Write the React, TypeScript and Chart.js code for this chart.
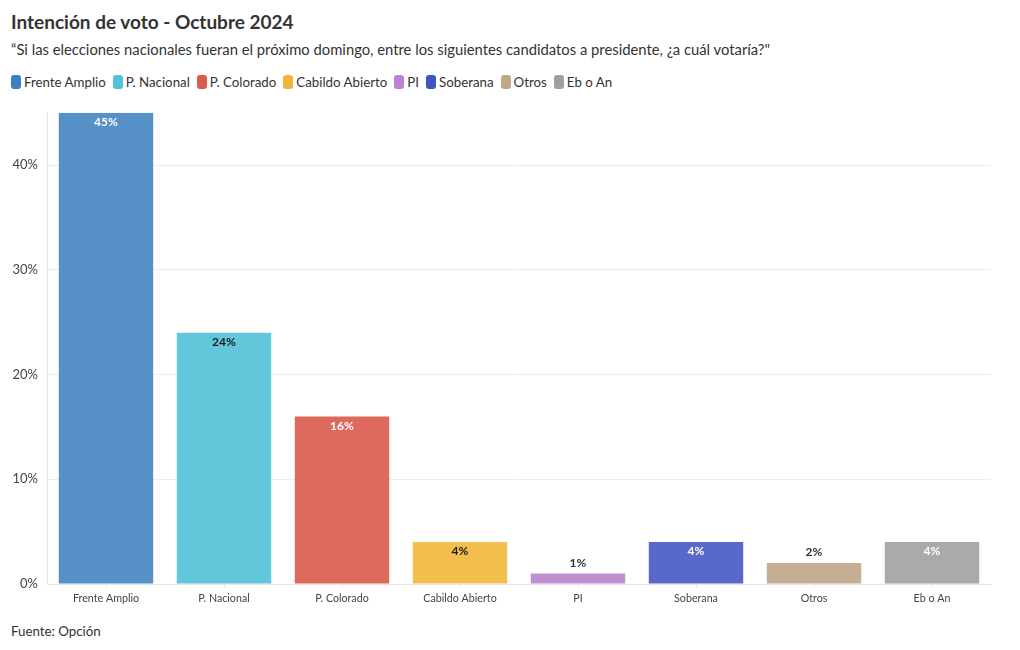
import React, { useEffect, useRef } from "react";
import { Chart, registerables } from "chart.js";

Chart.register(...registerables);

const categories = ["Frente Amplio", "P. Nacional", "P. Colorado", "Cabildo Abierto", "PI", "Soberana", "Otros", "Eb o An"];
const values = [45, 24, 16, 4, 1, 4, 2, 4];
const yTicks = [0, 10, 20, 30, 40];
const legendColors = ["#3D80C2", "#4EC3DA", "#DB5B4C", "#F2B634", "#BE82D2", "#3F55C4", "#BFA88A", "#A0A0A0"];
const barColors = ["#5590C6", "#63C7DC", "#DE6A5E", "#F3BF4C", "#C190D2", "#5869CB", "#C5AE93", "#AAAAAA"];
const labelColors = ["#ffffff", "#1a1a1a", "#ffffff", "#1a1a1a", "#333333", "#ffffff", "#333333", "#ffffff"];

const FONT = "'Source Sans Pro', Lato, 'Noto Sans', sans-serif";

const valueLabels = {
  id: "valueLabels",
  afterDatasetsDraw(chart: any) {
    const ctx = chart.ctx;
    const meta = chart.getDatasetMeta(0);
    ctx.save();
    ctx.font = `bold 12px ${FONT}`;
    ctx.textAlign = "center";
    ctx.textBaseline = "middle";
    meta.data.forEach((bar: any, i: number) => {
      const v = values[i];
      const inside = v >= 4;
      const y = inside ? bar.y + 9.5 : bar.y - 10.5;
      ctx.fillStyle = labelColors[i];
      ctx.fillText(v + "%", bar.x, y);
    });
    ctx.restore();
  },
};

export default function App() {
  const ref = useRef<HTMLCanvasElement>(null);
  useEffect(() => {
    document.body.style.margin = "0";
    const chart = new Chart(ref.current!, {
      type: "bar",
      data: {
        labels: categories,
        datasets: [
          {
            data: values,
            backgroundColor: barColors,
            borderWidth: 0,
            categoryPercentage: 0.8,
            barPercentage: 1,
          },
        ],
      },
      options: {
        animation: false,
        responsive: false,
        maintainAspectRatio: false,
        layout: { padding: { top: 9, right: 29, left: 0, bottom: 0 } },
        plugins: { legend: { display: false }, tooltip: { enabled: false } },
        scales: {
          x: {
            afterFit: (s: any) => { s.height = 31; },
            grid: { display: true, drawOnChartArea: false, drawTicks: true, tickLength: 4, offset: false, color: "#e6e6e6" },
            border: { color: "#e6e6e6" },
            ticks: { color: "#444", font: { family: FONT, size: 10.7 }, padding: 4 },
          },
          y: {
            min: 0,
            max: 45,
            afterFit: (s: any) => { s.width = 47; },
            afterBuildTicks: (s: any) => { s.ticks = yTicks.map((v) => ({ value: v })); },
            grid: { color: "#ececec", drawTicks: false },
            border: { color: "#e6e6e6" },
            ticks: { color: "#444", font: { family: FONT, size: 13 }, padding: 9, callback: (v: any) => v + "%" },
          },
        },
      },
      plugins: [valueLabels],
    });
    return () => chart.destroy();
  }, []);

  return (
    <div style={{ position: "relative", width: 1020, height: 650, fontFamily: FONT, background: "#fff" }}>
      <div style={{ position: "absolute", left: 11, top: 10, fontSize: 19, fontWeight: 700, color: "#333" }}>
        Intención de voto - Octubre 2024
      </div>
      <div style={{ position: "absolute", left: 11, top: 40, fontSize: 14.8, color: "#333" }}>
        “Si las elecciones nacionales fueran el próximo domingo, entre los siguientes candidatos a presidente, ¿a cuál votaría?"
      </div>
      <div style={{ position: "absolute", left: 11, top: 74, display: "flex", alignItems: "center", fontSize: 13.3, color: "#333" }}>
        {categories.map((c, i) => (
          <div key={c} style={{ display: "flex", alignItems: "center", marginRight: 7 }}>
            <span style={{ display: "inline-block", width: 10, height: 14, borderRadius: 3, background: legendColors[i], marginRight: 3 }} />
            <span>{c}</span>
          </div>
        ))}
      </div>
      <canvas ref={ref} width={1020} height={519} style={{ position: "absolute", left: 0, top: 96 }} />
      <div style={{ position: "absolute", left: 11, top: 623, fontSize: 13.3, color: "#333" }}>Fuente: Opción</div>
    </div>
  );
}
